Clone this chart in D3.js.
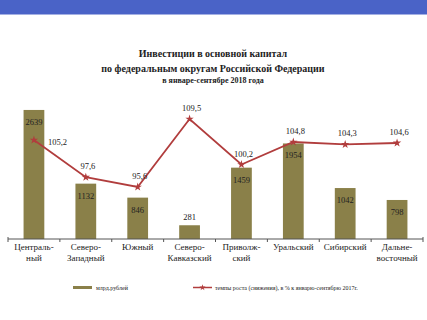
<!DOCTYPE html>
<html>
<head>
    <title>Investments by federal district</title>
    <script src="https://d3js.org/d3.v7.min.js"></script>
    <style>
        body { margin: 0; background: #fff; }
        svg text { font-family: "Liberation Serif", "Times New Roman", serif; fill: #222; }
    </style>
</head>
<body>
    <div id="chart"></div>

    <script>
        var districts = [
            ["Централь-", "ный"],
            ["Северо-", "Западный"],
            ["Южный"],
            ["Северо-", "Кавказский"],
            ["Приволж-", "ский"],
            ["Уральский"],
            ["Сибирский"],
            ["Дальне-", "восточный"]
        ];
        var investment = [2639, 1132, 846, 281, 1459, 1954, 1042, 798];
        var growth = [105.2, 97.6, 95.6, 109.5, 100.2, 104.8, 104.3, 104.6];

        var titleLines = [
            "Инвестиции  в основной  капитал",
            "по федеральным  округам  Российской  Федерации",
            "в январе-сентябре 2018 года"
        ];
        var legendBar = "млрд.рублей";
        var legendLine = "темпы роста (снижения), в % к январю-сентябрю 2017г.";

        var width = 427, height = 320;
        var barColor = "#8a8049", lineColor = "#b13d3d";
        var fmt = function(v) { return String(v).replace(".", ","); };

        var svg = d3.select("#chart").append("svg")
            .attr("width", width).attr("height", height);

        // header band
        svg.append("rect").attr("x", 0).attr("y", 0).attr("width", width).attr("height", 14.5)
            .attr("fill", "#4a63c7");

        // titles
        var title = svg.append("g").attr("text-anchor", "middle").attr("font-weight", "bold");
        title.append("text").attr("x", 213).attr("y", 57).attr("font-size", 10).text(titleLines[0]);
        title.append("text").attr("x", 213).attr("y", 72).attr("font-size", 10).text(titleLines[1]);
        title.append("text").attr("x", 213).attr("y", 83).attr("font-size", 8).text(titleLines[2]);

        var idx = d3.range(districts.length);
        var x = d3.scaleBand().domain(idx).range([8, 423]).paddingInner(0.6).paddingOuter(0.3);
        var xStep = d3.scaleBand().domain(idx).range([8, 423]);
        var yBar = d3.scaleLinear().domain([0, 3000]).range([239, 92.3]);
        var yLine = d3.scaleLinear().domain([90, 115]).range([214.4, 92.1]);

        // bars
        svg.selectAll(".bar").data(investment).enter().append("rect")
            .attr("class", "bar")
            .attr("x", function(d, i) { return x(i); })
            .attr("width", x.bandwidth())
            .attr("y", function(d) { return yBar(d); })
            .attr("height", function(d) { return yBar(0) - yBar(d); })
            .attr("fill", barColor);

        // bar labels (small bars get the label above)
        svg.selectAll(".bar-label").data(investment).enter().append("text")
            .attr("class", "bar-label")
            .attr("x", function(d, i) { return xStep(i) + xStep.bandwidth() / 2; })
            .attr("y", function(d) { return yBar(0) - yBar(d) < 30 ? yBar(d) - 5 : yBar(d) + 15; })
            .attr("text-anchor", "middle")
            .attr("font-size", 8.5)
            .text(function(d) { return d; });

        // x axis
        var axis = svg.append("g").attr("transform", "translate(0,239)")
            .call(d3.axisBottom(xStep).tickSize(0).tickFormat(""));
        axis.select(".domain").attr("stroke", "#555").attr("d", "M8,-2V0H423V-2");
        axis.selectAll(".sep").data(d3.range(districts.length + 1)).enter().append("line")
            .attr("class", "sep")
            .attr("x1", function(d) { return 8 + d * xStep.step(); })
            .attr("x2", function(d) { return 8 + d * xStep.step(); })
            .attr("y1", 0).attr("y2", 3)
            .attr("stroke", "#555");

        var xl = svg.selectAll(".xlab").data(districts).enter().append("text")
            .attr("class", "xlab")
            .attr("text-anchor", "middle")
            .attr("font-size", 9)
            .attr("x", function(d, i) { return xStep(i) + xStep.bandwidth() / 2; })
            .attr("y", 250);
        xl.selectAll("tspan").data(function(d) { return d; }).enter().append("tspan")
            .attr("x", function() { return d3.select(this.parentNode).attr("x"); })
            .attr("dy", function(d, i) { return i === 0 ? 0 : 11; })
            .text(function(d) { return d; });

        // growth line
        var cx = function(d, i) { return xStep(i) + xStep.bandwidth() / 2; };
        var line = d3.line().x(cx).y(function(d) { return yLine(d); });
        svg.append("path").datum(growth)
            .attr("d", line)
            .attr("fill", "none").attr("stroke", lineColor).attr("stroke-width", 1.8);

        var star = d3.symbol().type(d3.symbolStar).size(22);
        svg.selectAll(".pt").data(growth).enter().append("path")
            .attr("class", "pt")
            .attr("d", star)
            .attr("transform", function(d, i) { return "translate(" + cx(d, i) + "," + yLine(d) + ")"; })
            .attr("fill", lineColor);

        svg.selectAll(".line-label").data(growth).enter().append("text")
            .attr("class", "line-label")
            .attr("x", function(d, i) { return i === 0 ? cx(d, i) + 14 : cx(d, i) + 2; })
            .attr("y", function(d, i) { return i === 0 ? yLine(d) + 5 : yLine(d) - 8; })
            .attr("text-anchor", function(d, i) { return i === 0 ? "start" : "middle"; })
            .attr("font-size", 8.5)
            .text(fmt);

        // legend
        svg.append("rect").attr("x", 73).attr("y", 286).attr("width", 19).attr("height", 3)
            .attr("fill", barColor);
        svg.append("text").attr("x", 96).attr("y", 290).attr("font-size", 6).text(legendBar);
        svg.append("line").attr("x1", 193).attr("x2", 212).attr("y1", 287.5).attr("y2", 287.5)
            .attr("stroke", lineColor).attr("stroke-width", 1.5);
        svg.append("path").attr("d", d3.symbol().type(d3.symbolStar).size(12))
            .attr("transform", "translate(202.5,287.5)").attr("fill", lineColor);
        svg.append("text").attr("x", 215).attr("y", 290).attr("font-size", 6).text(legendLine);
    </script>
</body>
</html>
